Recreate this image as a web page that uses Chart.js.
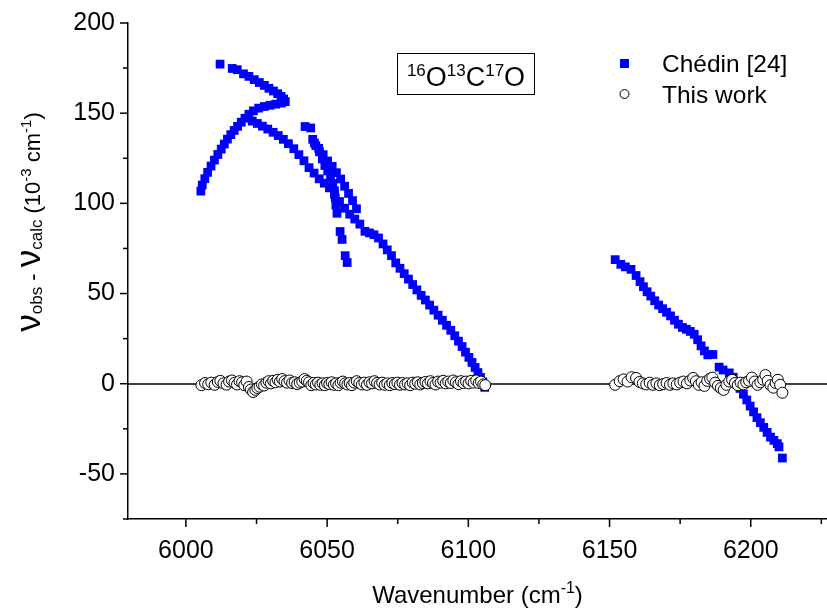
<!DOCTYPE html>
<html><head><meta charset="utf-8">
<script src="https://cdn.jsdelivr.net/npm/chart.js@4.4.1/dist/chart.umd.min.js"></script>
<style>html,body{margin:0;padding:0;background:#fff;overflow:hidden}canvas{display:block}</style>
</head><body>
<canvas id="c" width="827" height="610"></canvas>
<script>
// ---- tick values / labels ----
const xTicks = [6000,6025,6050,6075,6100,6125,6150,6175,6200,6225];
const xLabels = [6000,6050,6100,6150,6200];
const yTicks = [-75,-50,-25,0,25,50,75,100,125,150,175,200];
const yLabels = [-50,0,50,100,150,200];

// ---- Chédin [24] residuals (x: cm-1, y: 1e-3 cm-1) ----
const chedinRupper = [[6012.1,177.2],[6016.4,174.8],[6018.2,174.1],[6020.4,171.8],[6022.3,170.4],[6024.2,168.6],[6026.0,167.0],[6027.8,165.4],[6029.4,163.8],[6031.0,162.3],[6032.5,160.8],[6033.7,159.3],[6034.6,157.9],[6035.2,156.4]];
const chedinRlower = [[6033.8,155.6],[6031.8,155.0],[6029.8,154.4],[6027.8,153.7],[6025.8,152.8],[6023.9,151.3],[6022.3,149.4],[6020.9,147.2],[6019.6,145.0],[6018.3,142.7],[6017.1,140.4],[6015.9,138.1],[6014.7,135.6],[6013.6,132.9],[6012.5,130.1],[6011.3,127.1],[6010.1,124.0],[6008.9,120.7],[6007.7,117.2],[6006.7,113.7],[6005.8,110.2],[6005.3,106.8]];
const chedinP = [[6023.5,145.6],[6025.3,144.3],[6027.1,142.8],[6029.0,141.2],[6030.9,139.4],[6032.7,137.6],[6034.5,135.5],[6036.3,133.1],[6038.2,130.3],[6040.0,127.0],[6041.8,123.6],[6043.6,119.8],[6045.4,116.8],[6047.2,113.6],[6049.0,111.2],[6050.8,108.6],[6052.6,105.0],[6054.4,101.0],[6056.2,97.3],[6058.0,94.0],[6059.8,91.3],[6061.6,88.5],[6063.4,84.5],[6065.0,83.6],[6066.6,82.6],[6068.2,80.8],[6069.8,77.5],[6071.3,74.2],[6072.8,71.0],[6074.3,67.0],[6075.8,64.0],[6077.3,61.0],[6078.8,58.0],[6080.3,55.0],[6081.8,52.0],[6083.3,49.0],[6084.8,46.4],[6086.3,43.6],[6087.8,40.8],[6089.3,38.0],[6090.8,35.2],[6092.3,32.4],[6093.8,29.6],[6095.2,26.6],[6096.5,23.6],[6097.8,20.6],[6099.0,17.5],[6100.2,14.6],[6101.3,11.8],[6102.4,9.0],[6103.4,6.2],[6104.3,3.5],[6105.1,1.0],[6105.8,-2.0]];
const chedinQ1 = [[6042.2,142.6],[6044.2,141.8],[6044.9,135.5],[6046.0,132.0],[6047.3,128.6],[6048.3,124.6],[6049.2,121.0],[6050.2,118.0],[6051.2,114.6],[6052.0,111.0],[6052.6,107.0],[6052.9,103.0],[6053.1,99.0],[6053.5,94.5],[6054.6,84.4],[6055.3,80.0],[6056.4,71.0],[6057.1,67.2]];
const chedinQ2 = [[6045.5,133.5],[6047.0,130.5],[6048.6,127.0],[6050.2,123.5],[6051.8,120.5],[6053.3,117.0],[6054.8,113.5],[6056.2,109.5],[6057.6,105.5],[6059.0,101.5],[6060.4,97.0]];
const chedinBand2 = [[6152.0,68.8],[6154.0,66.2],[6155.6,64.8],[6157.6,63.4],[6159.4,60.0],[6160.8,56.6],[6162.0,53.8],[6163.3,51.0],[6164.6,48.6],[6166.0,46.0],[6167.4,43.6],[6168.8,41.6],[6170.2,39.6],[6171.6,37.6],[6173.0,35.2],[6174.4,33.0],[6175.8,31.2],[6177.2,30.2],[6178.6,29.0],[6180.0,27.4],[6181.2,24.4],[6182.4,21.0],[6183.6,18.2],[6184.8,16.0],[6186.6,16.2],[6188.8,9.2],[6190.2,7.6],[6192.4,6.0],[6193.8,3.6],[6195.0,0.8],[6196.2,-2.6],[6197.4,-5.8],[6198.6,-9.0],[6199.8,-12.4],[6201.0,-15.6],[6202.2,-18.8],[6203.4,-21.6],[6204.6,-24.2],[6205.8,-27.0],[6207.0,-29.6],[6208.2,-31.4],[6209.4,-33.2],[6210.0,-35.0],[6211.2,-41.2]];

// ---- This work residuals ----
const thisBand1 = [[6005.5,-0.8],[6006.8,0.4],[6007.9,-0.3],[6009.0,0.6],[6010.2,-0.6],[6011.3,1.0],[6012.2,1.6],[6013.3,0.2],[6014.4,-0.5],[6015.3,1.2],[6016.3,1.8],[6017.2,0.5],[6018.1,-0.4],[6019.0,1.4],[6019.9,0.8],[6020.7,-0.8],[6021.5,1.2],[6022.3,-1.8],[6023.0,-3.2],[6023.8,-4.6],[6024.6,-3.4],[6025.3,-2.4],[6026.1,-1.6],[6026.9,-0.4],[6027.7,-1.0],[6028.5,0.6],[6029.3,1.4],[6030.1,0.2],[6030.9,1.6],[6031.7,0.8],[6032.5,2.2],[6033.3,1.2],[6034.1,2.6],[6034.9,1.4],[6035.8,0.6],[6036.7,1.8],[6037.6,0.4],[6038.5,0.8],[6039.4,-0.2],[6040.3,0.6],[6041.2,1.2],[6042.0,2.6],[6042.8,1.6],[6043.6,0.8],[6044.4,-0.8],[6045.2,0.4],[6046.0,-0.4],[6046.8,0.6],[6047.6,-0.6],[6048.4,0.2],[6049.2,-0.8],[6050.0,0.4],[6050.8,-0.2],[6051.6,0.8],[6052.4,-0.6],[6053.2,0.2],[6054.0,-0.8],[6054.8,0.6],[6055.6,1.2],[6056.4,0.2],[6057.2,-0.4],[6058.0,0.4],[6058.8,-0.8],[6059.6,0.6],[6060.5,1.4],[6061.4,0.4],[6062.3,-0.4],[6063.2,0.6],[6064.1,-0.6],[6065.0,0.8],[6065.9,0.2],[6066.8,1.4],[6067.7,0.4],[6068.6,-0.4],[6069.5,0.6],[6070.4,-0.6],[6071.3,0.2],[6072.2,-0.8],[6073.1,0.4],[6074.0,-0.2],[6074.9,0.6],[6075.8,-0.6],[6076.7,0.4],[6077.6,-0.4],[6078.5,0.2],[6079.4,-0.8],[6080.3,0.6],[6081.2,0.0],[6082.1,0.8],[6083.0,-0.4],[6083.9,0.4],[6084.8,1.0],[6085.7,0.2],[6086.6,1.4],[6087.5,0.4],[6088.4,-0.4],[6089.3,1.2],[6090.2,0.6],[6091.1,1.6],[6092.0,0.2],[6092.9,1.2],[6093.8,0.4],[6094.7,1.8],[6095.6,0.8],[6096.5,-0.2],[6097.4,1.4],[6098.3,0.4],[6099.2,1.2],[6100.1,0.2],[6101.0,1.6],[6101.9,0.6],[6102.8,1.8],[6103.7,0.4],[6104.5,1.2],[6105.3,-0.4],[6106.0,-0.8]];
const thisBand2 = [[6152.0,-0.6],[6153.6,1.4],[6155.0,2.4],[6156.4,1.2],[6157.8,3.6],[6159.4,3.2],[6160.6,1.0],[6161.8,0.2],[6163.0,-0.4],[6164.2,0.6],[6165.4,-0.6],[6166.6,0.2],[6167.8,-0.8],[6169.0,-0.2],[6170.2,0.4],[6171.4,-0.6],[6172.6,0.2],[6173.8,-0.4],[6175.0,0.6],[6176.2,1.2],[6177.4,0.2],[6178.6,1.8],[6179.6,3.2],[6180.6,1.4],[6181.6,-0.6],[6182.6,0.8],[6183.6,-1.2],[6184.6,1.6],[6185.6,2.8],[6186.4,3.4],[6187.4,0.6],[6188.4,-1.2],[6189.4,-2.4],[6190.4,-3.4],[6191.4,-0.6],[6192.4,1.2],[6193.4,2.2],[6194.4,0.4],[6195.4,-0.8],[6196.4,0.6],[6197.4,-0.4],[6198.4,0.8],[6199.4,1.6],[6200.4,3.4],[6201.4,1.2],[6202.4,-0.6],[6203.4,0.8],[6204.4,2.2],[6205.2,4.8],[6206.0,1.6],[6207.0,-0.8],[6208.0,-2.2],[6208.8,0.4],[6209.6,2.2],[6210.4,-0.6],[6211.2,-5.0]];

const seriesNames = ['Chédin [24]', 'This work'];

// ---- build chart ----
const FAM = "'Liberation Sans', Arial, Helvetica, sans-serif";
const toPts = arr => arr.map(p => ({x: p[0], y: p[1]}));
const chedinAll = [].concat(chedinRupper, chedinRlower, chedinP, chedinQ1, chedinQ2, chedinBand2);
const thisAll = [].concat(thisBand1, thisBand2);

function richText(ctx, pieces, x, y, align) {
  let total = 0;
  pieces.forEach(p => { ctx.font = p.s + 'px ' + FAM; p.w = ctx.measureText(p.t).width; total += p.w; });
  let cx = align === 'center' ? x - total / 2 : x;
  ctx.textAlign = 'left'; ctx.textBaseline = 'alphabetic';
  pieces.forEach(p => { ctx.font = p.s + 'px ' + FAM; ctx.fillText(p.t, cx, y + (p.dy || 0)); cx += p.w; });
}

const decor = {
  id: 'decor',
  beforeDatasetsDraw(chart) {
    const {ctx, chartArea: a, scales: {y}} = chart;
    const py = Math.round(y.getPixelForValue(0));
    ctx.save(); ctx.strokeStyle = '#000'; ctx.lineWidth = 1.5;
    ctx.beginPath(); ctx.moveTo(a.left, py); ctx.lineTo(a.right, py); ctx.stroke();
    ctx.restore();
  },
  afterDraw(chart) {
    const {ctx, chartArea: a, scales: {x, y}} = chart;
    ctx.save();
    ctx.strokeStyle = '#000'; ctx.lineWidth = 1.5;
    xTicks.forEach(v => {
      const px = x.getPixelForValue(v), len = xLabels.includes(v) ? 8 : 5;
      ctx.beginPath(); ctx.moveTo(px, a.bottom); ctx.lineTo(px, a.bottom + len); ctx.stroke();
    });
    yTicks.forEach(v => {
      const py = y.getPixelForValue(v), len = yLabels.includes(v) ? 8 : 5;
      ctx.beginPath(); ctx.moveTo(a.left, py); ctx.lineTo(a.left - len, py); ctx.stroke();
    });
    ctx.fillStyle = '#000';
    // x title
    richText(ctx, [{t:'Wavenumber (cm', s:24}, {t:'-1', s:16, dy:-10}, {t:')', s:24}], (a.left + a.right) / 2, 603, 'center');
    // y title
    ctx.save();
    ctx.translate(40, 222); ctx.rotate(-Math.PI / 2);
    richText(ctx, [
      {t:'ν', s:35}, {t:'obs', s:17, dy:2}, {t:' - ', s:22}, {t:'ν', s:35}, {t:'calc', s:17, dy:2},
      {t:' (10', s:22}, {t:'-3', s:15, dy:-9}, {t:' cm', s:22}, {t:'-1', s:15, dy:-9}, {t:')', s:22}
    ], 0, 0, 'center');
    ctx.restore();
    // isotopologue box
    ctx.lineWidth = 1; ctx.strokeRect(397.5, 53.5, 137, 41);
    richText(ctx, [{t:'16', s:17, dy:-10}, {t:'O', s:27}, {t:'13', s:17, dy:-10}, {t:'C', s:27}, {t:'17', s:17, dy:-10}, {t:'O', s:27}], 466, 86, 'center');
    // legend
    ctx.fillStyle = '#0000ff'; ctx.fillRect(620, 59, 9, 9);
    ctx.fillStyle = '#fff'; ctx.strokeStyle = '#000'; ctx.lineWidth = 1;
    ctx.beginPath(); ctx.arc(624.5, 94, 4.5, 0, Math.PI * 2); ctx.fill(); ctx.stroke();
    ctx.fillStyle = '#000'; ctx.font = '24.5px ' + FAM; ctx.textAlign = 'left'; ctx.textBaseline = 'alphabetic';
    ctx.fillText(seriesNames[0], 662, 72);
    ctx.fillText(seriesNames[1], 662, 103);
    ctx.restore();
  }
};

new Chart(document.getElementById('c'), {
  type: 'scatter',
  data: {
    datasets: [
      {label: seriesNames[0], data: toPts(chedinAll), pointStyle: 'rect', pointRadius: 6.2, backgroundColor: '#0000ff', borderColor: '#0000ff', borderWidth: 0, order: 2},
      {label: seriesNames[1], data: toPts(thisAll), pointStyle: 'circle', pointRadius: 5.5, backgroundColor: '#ffffff', borderColor: '#000000', borderWidth: 1, order: 1}
    ]
  },
  options: {
    responsive: false, animation: false, devicePixelRatio: 1,
    layout: {autoPadding: false, padding: {top: 23, right: 0, left: 0, bottom: 0}},
    plugins: {legend: {display: false}, tooltip: {enabled: false}},
    scales: {
      x: {
        type: 'linear', min: 5979.5, max: 6227,
        afterBuildTicks: s => { s.ticks = xTicks.map(v => ({value: v})); },
        afterFit: s => { s.height = 91; s.paddingLeft = 0; s.paddingRight = 0; },
        grid: {display: false, drawTicks: false},
        border: {display: true, color: '#000', width: 1.5},
        ticks: {autoSkip: false, maxRotation: 0, minRotation: 0, padding: 17, color: '#000', font: {family: FAM, size: 25},
                callback: v => xLabels.includes(v) ? String(v) : ''}
      },
      y: {
        type: 'linear', min: -75, max: 200,
        afterBuildTicks: s => { s.ticks = yTicks.map(v => ({value: v})); },
        afterFit: s => { s.width = 128; s.paddingTop = 0; s.paddingBottom = 0; },
        grid: {display: false, drawTicks: false},
        border: {display: true, color: '#000', width: 1.5},
        ticks: {autoSkip: false, padding: 13, color: '#000', font: {family: FAM, size: 25},
                callback: v => yLabels.includes(v) ? String(v) : ''}
      }
    }
  },
  plugins: [decor]
});
</script>
</body></html>
